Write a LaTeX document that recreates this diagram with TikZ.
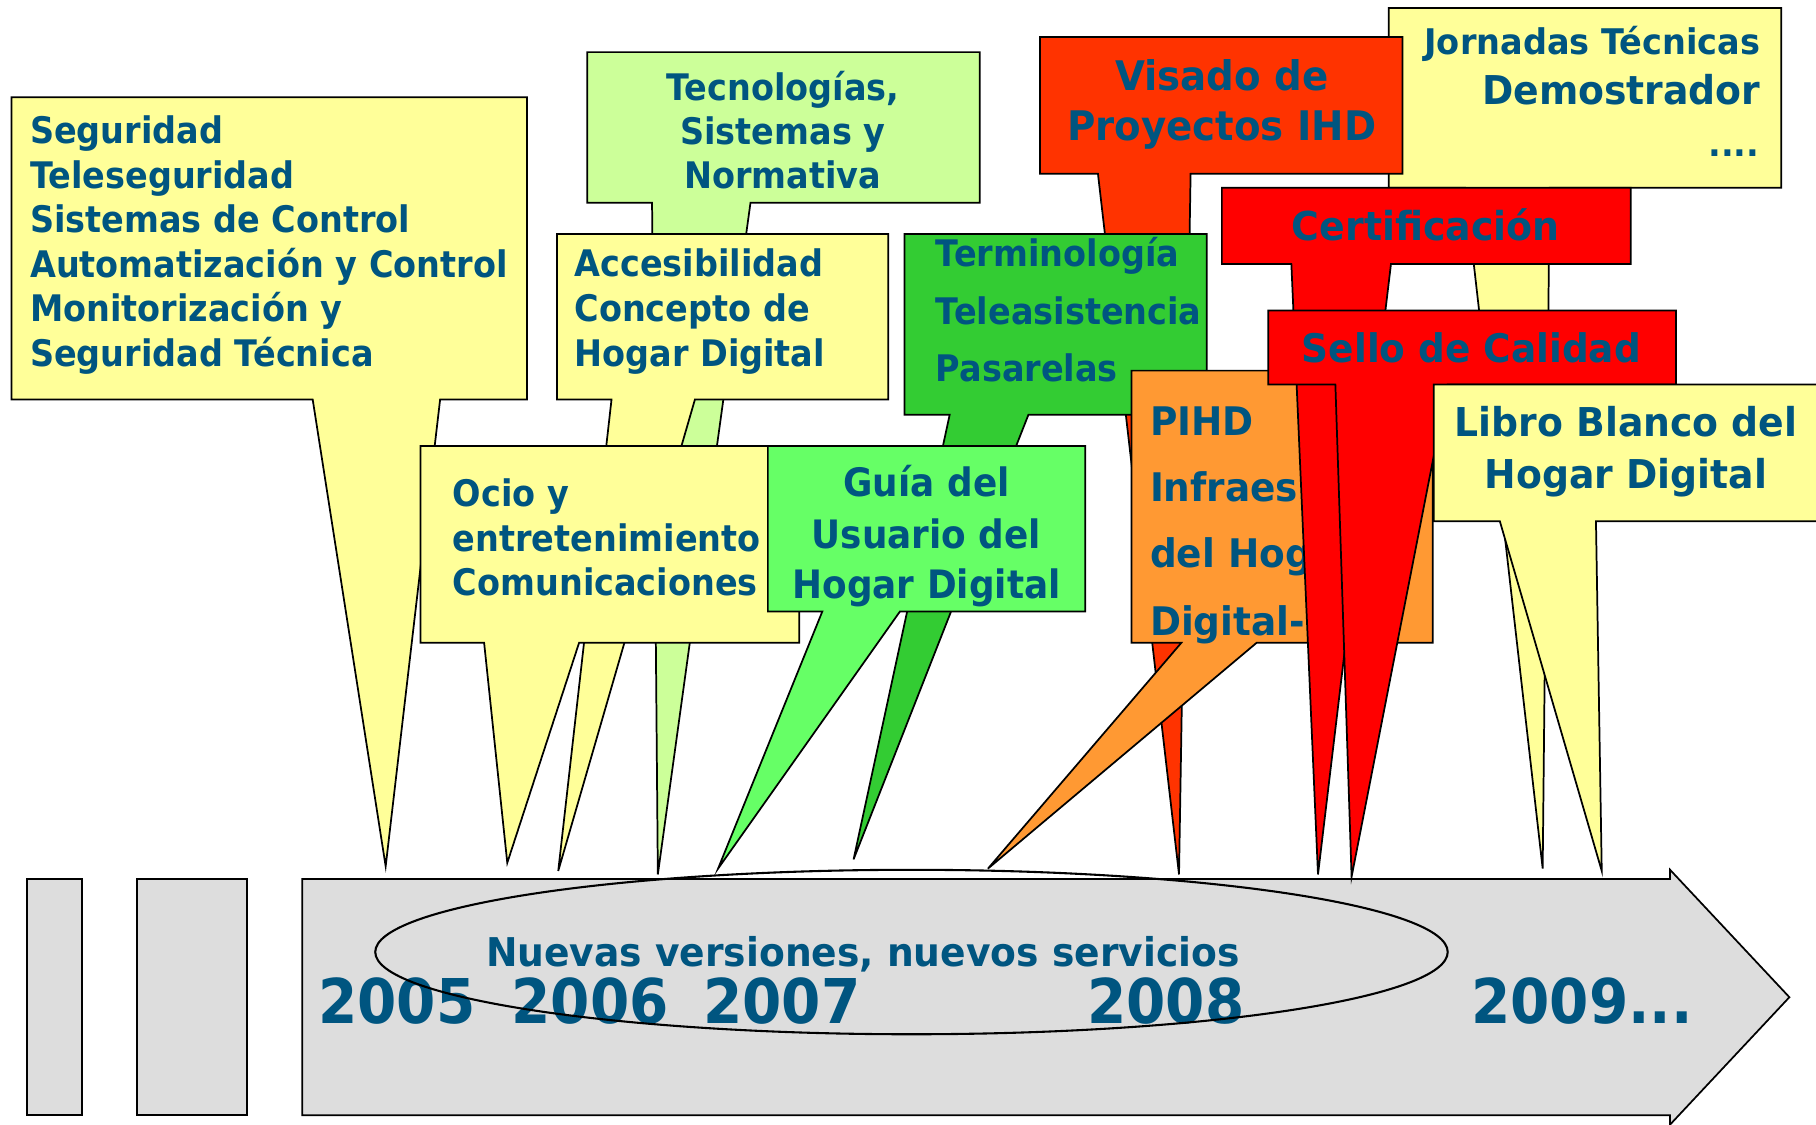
\documentclass[tikz,border=0pt]{standalone}
\usepackage{fontspec}
\newfontfamily\fontA{DejaVu Sans}[FakeStretch=0.915]
\newfontfamily\fontB{DejaVu Sans}[FakeStretch=0.95]
\definecolor{tcol}{HTML}{005580}
\definecolor{cyel}{HTML}{FFFF99}
\definecolor{clg}{HTML}{CCFF99}
\definecolor{cgb}{HTML}{66FF66}
\definecolor{cgd}{HTML}{33CC33}
\definecolor{cro}{HTML}{FF3300}
\definecolor{cred}{HTML}{FF0000}
\definecolor{corg}{HTML}{FF9933}
\definecolor{cgray}{HTML}{DDDDDD}
\begin{document}
\begin{tikzpicture}[x=0.5pt,y=-0.5pt,
  box/.style={draw=black,line width=0.75pt},
  ta/.style={inner sep=0pt,outer sep=0pt,text=tcol,font=\fontA\bfseries\fontsize{#1}{#1}\selectfont},
  tb/.style={inner sep=0pt,outer sep=0pt,text=tcol,font=\fontB\bfseries\fontsize{#1}{#1}\selectfont}]
\useasboundingbox (0,0) rectangle (1568,971);
\clip (0,0) rectangle (1568,971);
% timeline arrow
\draw[box,fill=cgray] (23,759) rectangle (71,963);
\draw[box,fill=cgray] (118,759) rectangle (213,963);
\draw[box,fill=cgray] (261,759) -- (1442,759) -- (1442,751) -- (1545,861) -- (1442,971) -- (1442,963) -- (261,963) -- cycle;
% Seguridad
\draw[box,fill=cyel] (10,84) -- (455,84) -- (455,345) -- (380,345) -- (333,748) -- (270,345) -- (10,345) -- cycle;
\node[ta=15.8,anchor=base west] (a1) at (26,123.8) {Seguridad};
\node[ta=15.8,anchor=base west] (a2) at (26,162.4) {Teleseguridad};
\node[ta=15.8,anchor=base west] (a3) at (26,200.9) {Sistemas de Control};
\node[ta=15.8,anchor=base west] (a4) at (26,239.5) {Automatización y Control};
\node[ta=15.8,anchor=base west] (a5) at (26,278.0) {Monitorización y};
\node[ta=15.8,anchor=base west] (a6) at (26,316.6) {Seguridad Técnica};
% Tecnologias
\draw[box,fill=clg] (507,45) -- (846,45) -- (846,175) -- (648,175) -- (568,755) -- (563,175) -- (507,175) -- cycle;
\node[ta=15.8,anchor=base] (b1) at (676,86.4) {Tecnologías,};
\node[ta=15.8,anchor=base] (b2) at (676,124.5) {Sistemas y};
\node[ta=15.8,anchor=base] (b3) at (676,162.6) {Normativa};
% Accesibilidad
\draw[box,fill=cyel] (481,202) -- (767,202) -- (767,345) -- (600,345) -- (482,752) -- (528,345) -- (481,345) -- cycle;
\node[ta=15.8,anchor=base west] (c1) at (496,239) {Accesibilidad};
\node[ta=15.8,anchor=base west] (c2) at (496,277.8) {Concepto de};
\node[ta=15.8,anchor=base west] (c3) at (496,316.6) {Hogar Digital};
% Ocio
\draw[box,fill=cyel] (363,385) -- (690,385) -- (690,555) -- (500,555) -- (438,745) -- (418,555) -- (363,555) -- cycle;
\node[ta=15.8,anchor=base west] (d1) at (391,437) {Ocio y};
\node[ta=15.8,anchor=base west] (d2) at (391,475.8) {entretenimiento};
\node[ta=15.8,anchor=base west] (d3) at (391,513.8) {Comunicaciones};
% Jornadas
\draw[box,fill=cyel] (1199,7) -- (1538,7) -- (1538,162) -- (1338,162) -- (1332,750) -- (1265,162) -- (1199,162) -- cycle;
\node[tb=15.25,anchor=base east] (e1) at (1520,46.9) {Jornadas Técnicas};
\node[tb=17.15,anchor=base east] (e2) at (1520,90.1) {Demostrador};
\node[tb=15.25,anchor=base east] (e3) at (1519,135.3) {....};
% Visado
\draw[box,fill=cro] (898,32) -- (1211,32) -- (1211,150) -- (1028,150) -- (1018,755) -- (948,150) -- (898,150) -- cycle;
\node[tb=17.6,anchor=base] (f1) at (1055,78.3) {Visado de};
\node[tb=17.6,anchor=base] (f2) at (1055,121) {Proyectos IHD};
% Terminologia
\draw[box,fill=cgd] (781,202) -- (1042,202) -- (1042,358) -- (888,358) -- (737,742) -- (820,358) -- (781,358) -- cycle;
\node[ta=15.8,anchor=base west] (g1) at (808,230.3) {Terminología};
\node[ta=15.8,anchor=base west] (g2) at (808,280.0) {Teleasistencia};
\node[ta=15.8,anchor=base west] (g3) at (808,329.6) {Pasarelas};
% Guia
\draw[box,fill=cgb] (663,385) -- (937,385) -- (937,528) -- (777,528) -- (620,750) -- (710,528) -- (663,528) -- cycle;
\node[ta=16.9,anchor=base] (h1) at (800,428.3) {Guía del};
\node[ta=16.9,anchor=base] (h2) at (800,473.5) {Usuario del};
\node[ta=16.9,anchor=base] (h3) at (800,516.7) {Hogar Digital};
% PIHD
\draw[box,fill=corg] (977,320) -- (1237,320) -- (1237,555) -- (1085,555) -- (853,750) -- (1020,555) -- (977,555) -- cycle;
\node[tb=17,anchor=base west] (i1) at (993,375.6) {PIHD};
\node[tb=17,anchor=base west] (i2) at (993,433.2) {Infraes};
\node[tb=17,anchor=base west] (i3) at (993,490) {del Hog};
\node[tb=17,anchor=base west] (i4) at (993,548.4) {Digital-};
% Certificacion
\draw[box,fill=cred] (1055,162) -- (1408,162) -- (1408,228) -- (1201,228) -- (1138,755) -- (1115,228) -- (1055,228) -- cycle;
\node[tb=17.2,anchor=base] (j1) at (1231,207.8) {Certificación};
% Sello
\draw[box,fill=cred] (1095,268) -- (1447,268) -- (1447,332) -- (1250,332) -- (1167,757) -- (1153,332) -- (1095,332) -- cycle;
\node[tb=17,anchor=base] (k1) at (1270.5,313.2) {Sello de Calidad};
% Libro
\draw[box,fill=cyel] (1238,332) -- (1600,332) -- (1600,450) -- (1378,450) -- (1383,752) -- (1295,450) -- (1238,450) -- cycle;
\node[tb=17.15,anchor=base] (l1) at (1404,376.5) {Libro Blanco del};
\node[tb=17.15,anchor=base] (l2) at (1404,421.7) {Hogar Digital};
% timeline texts
\node[tb=17.1,anchor=base] (n1) at (745,834.8) {Nuevas versiones, nuevos servicios};
\node[ta=26.65,anchor=base] (y5) at (342.5,883.7) {2005};
\node[ta=26.65,anchor=base] (y6) at (509.5,883.7) {2006};
\node[ta=26.65,anchor=base] (y7) at (675,883.7) {2007};
\node[ta=26.65,anchor=base] (y8) at (1006.5,883.7) {2008};
\node[ta=26.65,anchor=base] (y9) at (1366,883.7) {2009...};
% ellipse
\draw[line width=0.9pt] (787,822) ellipse [x radius=463, y radius=71];
\end{tikzpicture}
\end{document}
